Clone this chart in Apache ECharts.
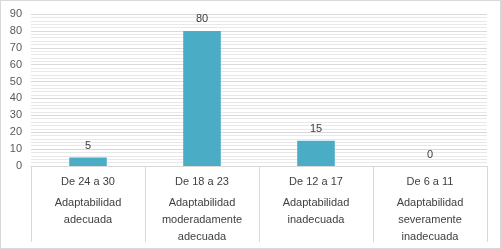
<!DOCTYPE html>
<html>
<head>
<meta charset="utf-8">
<script src="https://cdn.jsdelivr.net/npm/echarts@6/dist/echarts.min.js"></script>
<style>
  html, body { margin: 0; padding: 0; background: #fff; }
  #chart { width: 501px; height: 249px; box-sizing: border-box; border: 1px solid #d9d9d9; }
</style>
</head>
<body>
<div id="chart"></div>
<script>
// rangos de puntaje y nivel de adaptabilidad
const rangos = ['De 24 a 30', 'De 18 a 23', 'De 12 a 17', 'De 6 a 11'];
const niveles = [
  ['Adaptabilidad', 'adecuada'],
  ['Adaptabilidad', 'moderadamente', 'adecuada'],
  ['Adaptabilidad', 'inadecuada'],
  ['Adaptabilidad', 'severamente', 'inadecuada']
];
const valores = [5, 80, 15, 0];

const fuente = 'Liberation Sans';

const chart = echarts.init(document.getElementById('chart'));
chart.setOption({
  animation: false,
  grid: { left: 30, right: 13, top: 13, bottom: 82 },
  xAxis: {
    type: 'category',
    data: rangos,
    axisLine: { lineStyle: { color: '#d9d9d9' } },
    axisTick: { show: true, interval: 0, length: 76, lineStyle: { color: '#d9d9d9' } },
    axisLabel: {
      interval: 0,
      margin: 4,
      formatter: (v, i) => '{a|' + v + '}\n' + niveles[i].map(t => '{b|' + t + '}').join('\n'),
      rich: {
        a: { fontFamily: fuente, fontSize: 11, color: '#404040', lineHeight: 24 },
        b: { fontFamily: fuente, fontSize: 11, color: '#404040', lineHeight: 17 }
      }
    }
  },
  yAxis: {
    type: 'value',
    min: 0,
    max: 90,
    interval: 10,
    axisLine: { show: false },
    axisTick: { show: false },
    axisLabel: { fontFamily: fuente, fontSize: 11, color: '#595959', margin: 9 },
    splitLine: { show: true, lineStyle: { color: '#d9d9d9', width: 1 } },
    minorTick: { show: true, splitNumber: 5, length: 0 },
    minorSplitLine: { show: true, lineStyle: { color: '#e8e8e8', width: 1 } }
  },
  series: [{
    type: 'bar',
    data: valores,
    barWidth: '33%',
    itemStyle: { color: '#4bacc6' },
    label: {
      show: true,
      position: 'top',
      distance: 6,
      fontFamily: fuente,
      fontSize: 11,
      color: '#404040'
    }
  }]
});
</script>
</body>
</html>
